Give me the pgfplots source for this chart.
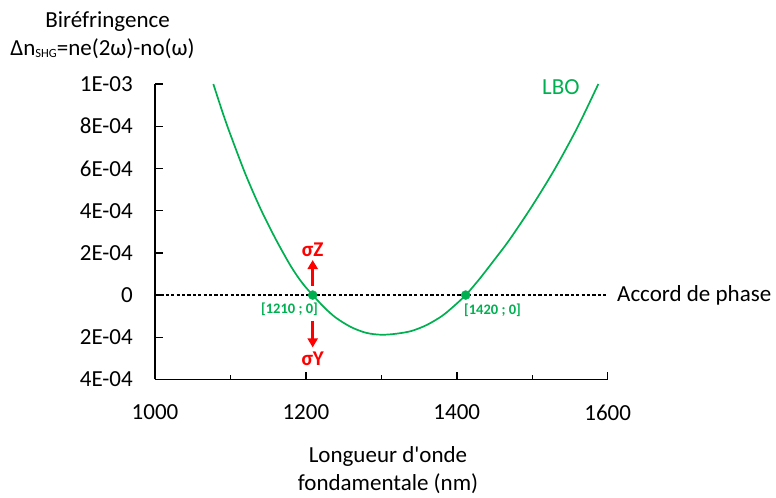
\documentclass[border=0pt]{standalone}
\usepackage{fontspec}
\setmainfont{Carlito}
\usepackage{pgfplots}
\pgfplotsset{compat=1.18}
\usetikzlibrary{arrows.meta}
\definecolor{lbogreen}{RGB}{0,176,80}

\begin{document}
\fontsize{23bp}{27bp}\selectfont
\begin{tikzpicture}
\path[use as bounding box] (0bp,0bp) rectangle (776bp,498bp);
\begin{axis}[
    at={(155bp,118.5bp)}, anchor=south west,
    scale only axis, width=452.7bp, height=295.5bp,
    xmin=1000, xmax=1600, ymin=-0.0004, ymax=0.001,
    axis x line*=bottom, axis y line*=left,
    axis line style={line width=1.6bp,-},
    xtick={1000,1200,1400,1600},
    xticklabels={1000,1200,1400,1600},
    minor xtick={1100,1300,1500},
    ytick={-0.0004,-0.0002,0,0.0002,0.0004,0.0006,0.0008,0.001},
    yticklabels={4E-04,2E-04,0,2E-04,4E-04,6E-04,8E-04,1E-03},
    scaled y ticks=false,
    tick align=inside,
    major tick length=7.5bp, minor tick length=4.5bp,
    tick style={line width=1.4bp,black},
    xticklabel style={anchor=north, inner sep=0pt, yshift=-25bp},
    yticklabel style={anchor=east, inner sep=0pt, xshift=-22bp},
    clip=false,
]
% phase matching line
\addplot[black, line width=1.5bp, dash pattern=on 3.2bp off 2.2bp] coordinates {(1000,0) (1600,0)};

% LBO birefringence curve
\addplot[lbogreen, line width=1.7bp, smooth] coordinates {
    (1077.3, 0.001)
    (1090, 0.000861)
    (1100, 0.000760)
    (1120, 0.000572)
    (1140, 0.000408)
    (1160, 0.000265)
    (1180, 0.000137)
    (1195, 0.000058)
    (1209, 0)
    (1225, -0.000061)
    (1240, -0.000108)
    (1260, -0.000152)
    (1280, -0.000179)
    (1300, -0.000188)
    (1320, -0.000183)
    (1340, -0.000170)
    (1360, -0.000142)
    (1380, -0.000100)
    (1395, -0.000056)
    (1411.8, 0)
    (1430, 0.000076)
    (1450, 0.000168)
    (1470, 0.000263)
    (1500, 0.000423)
    (1530, 0.000598)
    (1560, 0.000795)
    (1587.6, 0.001)
};

% phase matching points
\addplot[only marks, mark=*, mark size=4.5bp, lbogreen] coordinates {(1209,0) (1411.8,0)};

\node[lbogreen] at (axis cs:1538,0.000986) {LBO};
\node[lbogreen, font=\fontsize{14.5bp}{14.5bp}\selectfont\bfseries] at (axis cs:1178.3,-0.000066) {[1210 ; 0]};
\node[lbogreen, font=\fontsize{14.5bp}{14.5bp}\selectfont\bfseries] at (axis cs:1447.3,-0.000071) {[1420 ; 0]};
\node[anchor=west, inner sep=0pt] at (axis cs:1612.3,0) {Accord de phase};

\draw[red, line width=3bp, -{Triangle[width=10bp,length=9bp]}] (axis cs:1209,0.000045) -- (axis cs:1209,0.000166);
\draw[red, line width=3bp, -{Triangle[width=10bp,length=9bp]}] (axis cs:1209,-0.000122) -- (axis cs:1209,-0.000248);
\node[red, font=\fontsize{21bp}{21bp}\selectfont\bfseries] at (axis cs:1209,0.000215) {σZ};
\node[red, font=\fontsize{21bp}{21bp}\selectfont\bfseries] at (axis cs:1209,-0.000300) {σY};
\end{axis}

\node at (107.5bp,476bp) {Biréfringence};
\node at (102.5bp,449bp) {Δn\raisebox{-1.5bp}{\fontsize{12.5bp}{12.5bp}\selectfont SHG}=ne(2ω)-no(ω)};
\node at (388bp,42bp) {Longueur d\textquotesingle onde};
\node at (388bp,14bp) {fondamentale (nm)};
\end{tikzpicture}
\end{document}
